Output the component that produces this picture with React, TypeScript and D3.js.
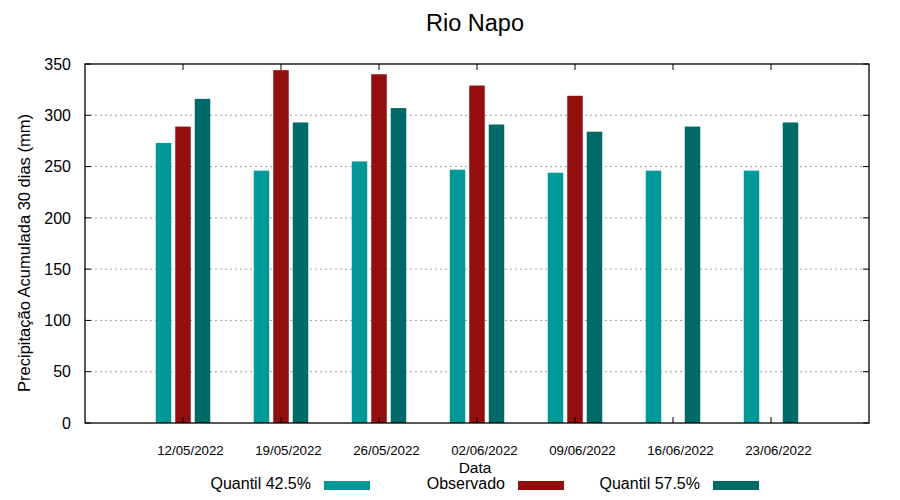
import React from "react";
import * as d3 from "d3";

const dates = ["2022-05-12", "2022-05-19", "2022-05-26", "2022-06-02", "2022-06-09", "2022-06-16", "2022-06-23"];
const q425 = [273, 246, 255, 247, 244, 246, 246];
const observado: (number | null)[] = [289, 344, 340, 329, 319, null, null];
const q575 = [316, 293, 307, 291, 284, 289, 293];
const yTicks = [0, 50, 100, 150, 200, 250, 300, 350];
const seriesNames = ["Quantil 42.5%", "Observado", "Quantil 57.5%"];
const colors = ["#009999", "#930e0f", "#006a68"];

const W = 900, H = 500;
const L = 85, R = 869, T = 64, B = 423;

export default function App() {
  const parse = d3.utcParse("%Y-%m-%d");
  const fmt = d3.utcFormat("%d/%m/%Y");
  const x = d3.scaleUtc().domain([parse("2022-05-05")!, parse("2022-06-30")!]).range([L, R]);
  const y = d3.scaleLinear().domain([0, 350]).range([B, T]);
  const bw = 15.5, step = 19.5;
  const series = [q425, observado, q575];
  const font = "'Liberation Sans', Arial, sans-serif";
  const legendX = [311, 505, 700];

  return (
    <svg width={W} height={H} style={{ position: "absolute", left: 0, top: 0 }} fontFamily={font}>
      <rect width={W} height={H} fill="#fff" />
      <text x={475} y={31} textAnchor="middle" fontSize={23.5}>Rio Napo</text>
      {yTicks.map((t) => (
        <g key={t}>
          {t > 0 && t < 350 && (
            <line x1={L} x2={R} y1={y(t)} y2={y(t)} stroke="#a0a0a0" strokeWidth={1} strokeDasharray="2,3" />
          )}
          <line x1={L} x2={L + 6} y1={y(t)} y2={y(t)} stroke="#000" />
          <line x1={R - 6} x2={R} y1={y(t)} y2={y(t)} stroke="#000" />
          <text x={71} y={y(t)} dy="0.36em" textAnchor="end" fontSize={16}>{t}</text>
        </g>
      ))}
      {series.map((s, si) =>
        s.map((v, i) =>
          v == null ? null : (
            <rect
              key={si + "-" + i}
              x={x(parse(dates[i])!) + (si - 1) * step - bw / 2}
              y={y(v)}
              width={bw}
              height={B - y(v)}
              fill={colors[si]}
            />
          )
        )
      )}
      {dates.map((d) => {
        const xx = x(parse(d)!);
        return (
          <g key={d}>
            <line x1={xx} x2={xx} y1={T} y2={T + 6} stroke="#000" />
            <line x1={xx} x2={xx} y1={B} y2={B - 6} stroke="#000" />
            <text x={xx + 7.5} y={455} textAnchor="middle" fontSize={13.3}>{fmt(parse(d)!)}</text>
          </g>
        );
      })}
      <rect x={L} y={T} width={R - L} height={B - T} fill="none" stroke="#000" strokeWidth={1.3} />
      <text x={475} y={473} textAnchor="middle" fontSize={15.5}>Data</text>
      <text transform={`translate(30,253) rotate(-90)`} textAnchor="middle" fontSize={16.5}>
        Precipitação Acumulada 30 dias (mm)
      </text>
      {seriesNames.map((n, i) => (
        <g key={n}>
          <text x={legendX[i]} y={489} textAnchor="end" fontSize={16}>{n}</text>
          <rect x={legendX[i] + 13} y={481} width={46} height={9} fill={colors[i]} />
        </g>
      ))}
    </svg>
  );
}
